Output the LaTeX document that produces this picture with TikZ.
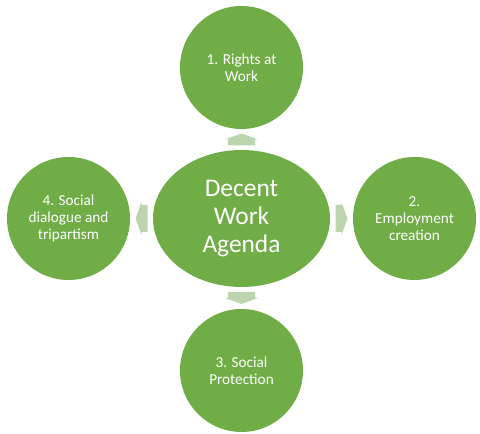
\documentclass[tikz,border=0pt]{standalone}
\usepackage{fontspec}
\setmainfont{Carlito}
\usetikzlibrary{shapes.geometric,calc}
\definecolor{cgreen}{HTML}{70AD47}
\definecolor{agreen}{HTML}{BDD5AF}
\tikzset{
  sat/.style={circle, fill=cgreen, draw=none, minimum size=123bp, inner sep=0pt,
    text=white, align=center, font=\fontsize{15.3}{16.8}\selectfont},
  hub/.style={ellipse, fill=cgreen, draw=none, minimum width=177bp, minimum height=137bp,
    inner sep=0pt, text=white, align=center, font=\fontsize{25.5}{28.5}\selectfont},
  barrow/.pic={\fill[agreen] (-6,-13.5) -- (0,-13.5) -- (0,-16.5) -- (6,0) -- (0,16.5) -- (0,13.5) -- (-6,13.5) -- cycle;}
}
\begin{document}
\begin{tikzpicture}[x=1bp,y=1bp]
\useasboundingbox (0,0) rectangle (480,434);
\node[hub] (hub) at (241.5,215.5) {Decent\\Work\\Agenda};
\node[sat] (top) at (241.5,366.5) {1. Rights at\\Work};
\node[sat] (right) at (414.5,215.5) {2.\\Employment\\creation};
\node[sat] (bottom) at (241.5,63.5) {3. Social\\Protection};
\node[sat] (left) at (68.5,215.5) {4. Social\\dialogue and\\tripartism};
\coordinate (at) at ($(hub.north)!0.5!(top.south)$);
\coordinate (ar) at ($(hub.east)!0.5!(right.west)$);
\coordinate (ab) at ($(hub.south)!0.5!(bottom.north)$);
\coordinate (al) at ($(hub.west)!0.5!(left.east)$);
\pic[rotate=90] at (at) {barrow};
\pic at (ar) {barrow};
\pic[rotate=-90] at (ab) {barrow};
\pic[rotate=180] at (al) {barrow};
\end{tikzpicture}
\end{document}
